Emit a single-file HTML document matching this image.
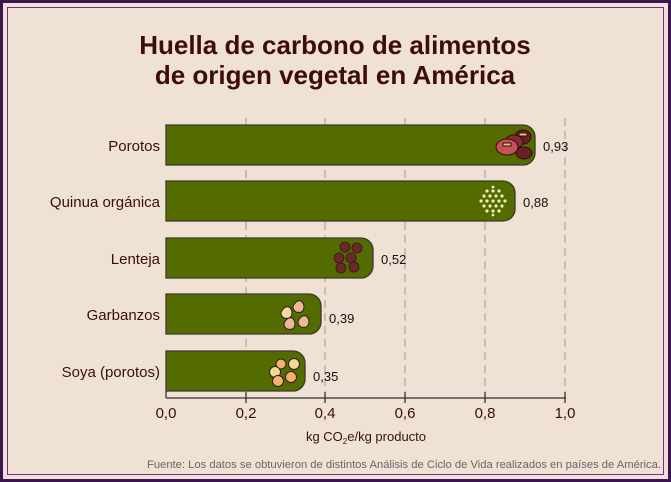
<!DOCTYPE html><html><head><meta charset="utf-8"><style>
html,body{margin:0;width:671px;height:482px;background:#efe2d5;overflow:hidden;font-family:"Liberation Sans",sans-serif}
svg{display:block}
</style></head><body>
<svg width="671" height="482" xmlns="http://www.w3.org/2000/svg" font-family="Liberation Sans, sans-serif">
<rect x="1.5" y="1.5" width="668" height="479" fill="#efe2d5" stroke="#3a1550" stroke-width="3"/>
<rect x="7.5" y="7.5" width="656" height="467" fill="none" stroke="#7a2a8a" stroke-width="1"/>
<text x="335" y="54" text-anchor="middle" font-size="26" font-weight="bold" fill="#3e0c0c">Huella de carbono de alimentos</text>
<text x="335" y="84" text-anchor="middle" font-size="26" font-weight="bold" fill="#3e0c0c">de origen vegetal en América</text>
<g stroke="#999" stroke-dasharray="8,5" stroke-width="1">
<line x1="246" y1="118" x2="246" y2="398"/><line x1="325" y1="118" x2="325" y2="398"/><line x1="405" y1="118" x2="405" y2="398"/><line x1="485" y1="118" x2="485" y2="398"/><line x1="565" y1="118" x2="565" y2="398"/>
</g>
<g fill="#546b00" stroke="#3a3a2a" stroke-width="1.3">
<path d="M166 125 H523 a12 12 0 0 1 12 12 V153 a12 12 0 0 1 -12 12 H166Z"/>
<path d="M166 181 H503 a12 12 0 0 1 12 12 V209 a12 12 0 0 1 -12 12 H166Z"/>
<path d="M166 238 H361 a12 12 0 0 1 12 12 V266 a12 12 0 0 1 -12 12 H166Z"/>
<path d="M166 294 H309 a12 12 0 0 1 12 12 V322 a12 12 0 0 1 -12 12 H166Z"/>
<path d="M166 351 H293 a12 12 0 0 1 12 12 V379 a12 12 0 0 1 -12 12 H166Z"/>
</g>
<g stroke="#2a1010" stroke-width="1">
<ellipse cx="523" cy="137" rx="8" ry="7" fill="#6a1e28"/><ellipse cx="514" cy="142" rx="9" ry="7" fill="#8a2a35"/><ellipse cx="524" cy="153" rx="8" ry="6" fill="#6a1e28"/><ellipse cx="507" cy="147" rx="11" ry="8" fill="#c85058"/>
<rect x="519" y="133" width="8" height="3" fill="#e8c070"/><rect x="503" y="143" width="8" height="3" fill="#e8c070"/>
</g>
<g fill="#f2eac0">
<circle cx="493" cy="201" r="1.6"/><circle cx="487" cy="201" r="1.6"/><circle cx="499" cy="201" r="1.6"/><circle cx="481" cy="201" r="1.6"/><circle cx="505" cy="201" r="1.6"/>
<circle cx="490" cy="196" r="1.6"/><circle cx="496" cy="196" r="1.6"/><circle cx="484" cy="196" r="1.6"/><circle cx="502" cy="196" r="1.6"/>
<circle cx="490" cy="206" r="1.6"/><circle cx="496" cy="206" r="1.6"/><circle cx="484" cy="206" r="1.6"/><circle cx="502" cy="206" r="1.6"/>
<circle cx="493" cy="191" r="1.6"/><circle cx="487" cy="191" r="1.6"/><circle cx="499" cy="191" r="1.6"/>
<circle cx="493" cy="211" r="1.6"/><circle cx="487" cy="211" r="1.6"/><circle cx="499" cy="211" r="1.6"/>
<circle cx="493" cy="187" r="1.4"/><circle cx="493" cy="215" r="1.4"/>
</g>
<g fill="#6a2a2a" stroke="#3a1515" stroke-width="0.8">
<circle cx="345" cy="247" r="5"/><circle cx="357" cy="248" r="5"/><circle cx="339" cy="258" r="5"/><circle cx="351" cy="258" r="5"/><circle cx="341" cy="268" r="5"/><circle cx="354" cy="267" r="5"/>
</g>
<g stroke="#222" stroke-width="1">
<path d="M296 302 q6 -4 8 4 q0 8 -8 6 q-6 -4 0 -10Z" fill="#f0b890"/><path d="M284 308 q6 -4 8 4 q0 8 -8 6 q-6 -4 0 -10Z" fill="#f6d8a0"/><path d="M301 317 q6 -4 8 4 q0 8 -8 6 q-6 -4 0 -10Z" fill="#f0b890"/><path d="M287 319 q6 -4 8 4 q0 8 -8 6 q-6 -4 0 -10Z" fill="#f0b890"/>
</g>
<g stroke="#222" stroke-width="1">
<circle cx="281" cy="364" r="5" fill="#f5b070"/><circle cx="294" cy="364" r="5.5" fill="#f5d890"/><circle cx="275" cy="372" r="5.5" fill="#f5d890"/><circle cx="291" cy="377" r="5.5" fill="#f5b070"/><circle cx="278" cy="381" r="5.5" fill="#f5b070"/>
</g>
<g font-size="13" fill="#111">
<text x="543" y="151">0,93</text><text x="523" y="207">0,88</text><text x="381" y="264">0,52</text><text x="329" y="323">0,39</text><text x="313" y="381">0,35</text>
</g>
<g font-size="15" fill="#3a0e0e" text-anchor="end">
<text x="160" y="151">Porotos</text><text x="160" y="207">Quinua orgánica</text><text x="160" y="264">Lenteja</text><text x="160" y="320">Garbanzos</text><text x="160" y="377">Soya (porotos)</text>
</g>
<g stroke="#333" stroke-width="1.3">
<line x1="166" y1="398" x2="566" y2="398"/><line x1="166" y1="391" x2="166" y2="398"/>
<line x1="246" y1="392" x2="246" y2="403"/><line x1="325" y1="392" x2="325" y2="403"/><line x1="405" y1="392" x2="405" y2="403"/><line x1="485" y1="392" x2="485" y2="403"/><line x1="565" y1="392" x2="565" y2="403"/>
</g>
<g font-size="15" fill="#3a0e0e" text-anchor="middle">
<text x="166" y="418">0,0</text><text x="246" y="418">0,2</text><text x="325" y="418">0,4</text><text x="405" y="418">0,6</text><text x="485" y="418">0,8</text><text x="565" y="418">1,0</text>
</g>
<text x="366" y="441" text-anchor="middle" font-size="13" fill="#3a0e0e">kg CO<tspan font-size="8" dy="3">2</tspan><tspan dy="-3">e/kg producto</tspan></text>
<text x="147" y="468" font-size="11" fill="#666" textLength="514" lengthAdjust="spacingAndGlyphs">Fuente: Los datos se obtuvieron de distintos Análisis de Ciclo de Vida realizados en países de América.</text>
</svg>
</body></html>
